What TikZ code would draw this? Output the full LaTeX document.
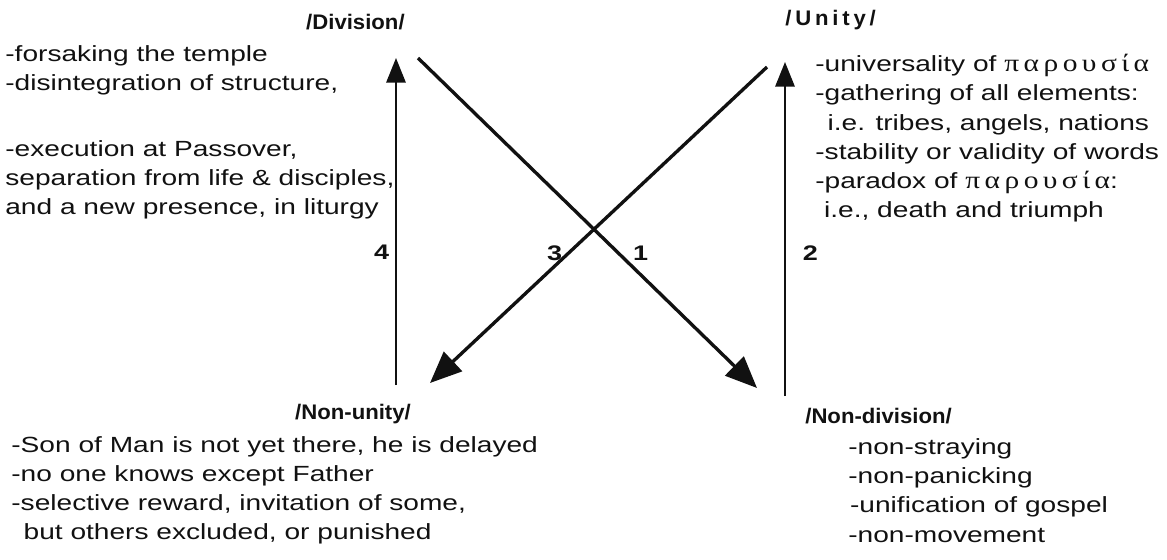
\documentclass[tikz,border=0pt]{standalone}
\usepackage{fontspec}
\setmainfont{Liberation Sans}[FakeStretch=1.28]
\newfontfamily\headfont{Liberation Sans}[FakeStretch=1.05]
\newfontfamily\greekfont{Liberation Serif}[FakeStretch=1.2, LetterSpace=18]
\usetikzlibrary{positioning, arrows.meta}
\definecolor{inkBlack}{HTML}{111111}
\newcommand{\parousia}{{\greekfont\fontsize{14}{15}\selectfont παρουσία}}

\begin{document}
\begin{tikzpicture}[x=0.02cm, y=-0.02cm, inner sep=0pt, text=inkBlack,
    heading/.style={font=\headfont\bfseries\fontsize{12}{14}\selectfont},
    notes/.style={align=left, anchor=north west, font=\fontsize{12.5}{16.6}\selectfont},
    num/.style={font=\fontsize{12}{14}\selectfont\bfseries},
    upline/.style={draw=inkBlack, line width=1.1pt, -{Triangle[length=14pt, width=11pt]}},
    crossline/.style={draw=inkBlack, line width=1.9pt, -{Triangle[length=18pt, width=15pt]}}]
  \useasboundingbox (0,0) rectangle (1167,559);

  % corner headings
  \node[heading, anchor=east] (division) at (405,22) {/Division/};
  \node[heading, anchor=west] (unity) at (785,20) {\addfontfeature{LetterSpace=18}/Unity/};
  \node[heading] (nonunity) at (353,414) {/Non-unity/};
  \node[heading, anchor=west] (nondivision) at (805,416) {/Non-division/};

  % lists
  \node[notes] (divnotes) at (5,45)
    {-forsaking the temple\\
     -disintegration of structure,\\[21pt]
     -execution at Passover,\\
     separation from life \& disciples,\\
     and a new presence, in liturgy};
  \node[notes] (unitynotes) at (815,54)
    {-universality of \parousia\\
     -gathering of all elements:\\
     \hspace{7pt}i.e. tribes, angels, nations\\
     -stability or validity of words\\
     -paradox of \parousia:\\
     \hspace{5pt}i.e., death and triumph};
  \node[notes] (nonunitynotes) at (11,436)
    {-Son of Man is not yet there, he is delayed\\
     -no one knows except Father\\
     -selective reward, invitation of some,\\
     \hspace{7pt}but others excluded, or punished};
  \node[notes, below=8pt of nondivision.south west, anchor=north west, xshift=0.86cm] (nondivnotes)
    {-non-straying\\
     -non-panicking\\
     \hspace{1pt}-unification of gospel\\
     -non-movement};

  % arrow ends
  \coordinate (div-in) at (396,58);
  \coordinate (div-out) at (418,58);
  \coordinate (uni-in) at (785,62);
  \coordinate (uni-out) at (767,67);
  \coordinate (nonuni-in) at (430,383);
  \coordinate (nonuni-out) at (396,385);
  \coordinate (nondiv-in) at (757,388);
  \coordinate (nondiv-out) at (785,396);

  \draw[crossline] (div-out) -- node[num, pos=0.591, right=0.26cm] (n1) {1} (nondiv-in);
  \draw[upline] (nondiv-out) -- node[num, pos=0.428, right=0.34cm] (n2) {2} (uni-in);
  \draw[crossline] (uni-out) -- node[num, pos=0.589, xshift=-0.28cm] (n3) {3} (nonuni-in);
  \draw[upline] (nonuni-out) -- node[num, pos=0.407, left=0.12cm] (n4) {4} (div-in);
\end{tikzpicture}
\end{document}
